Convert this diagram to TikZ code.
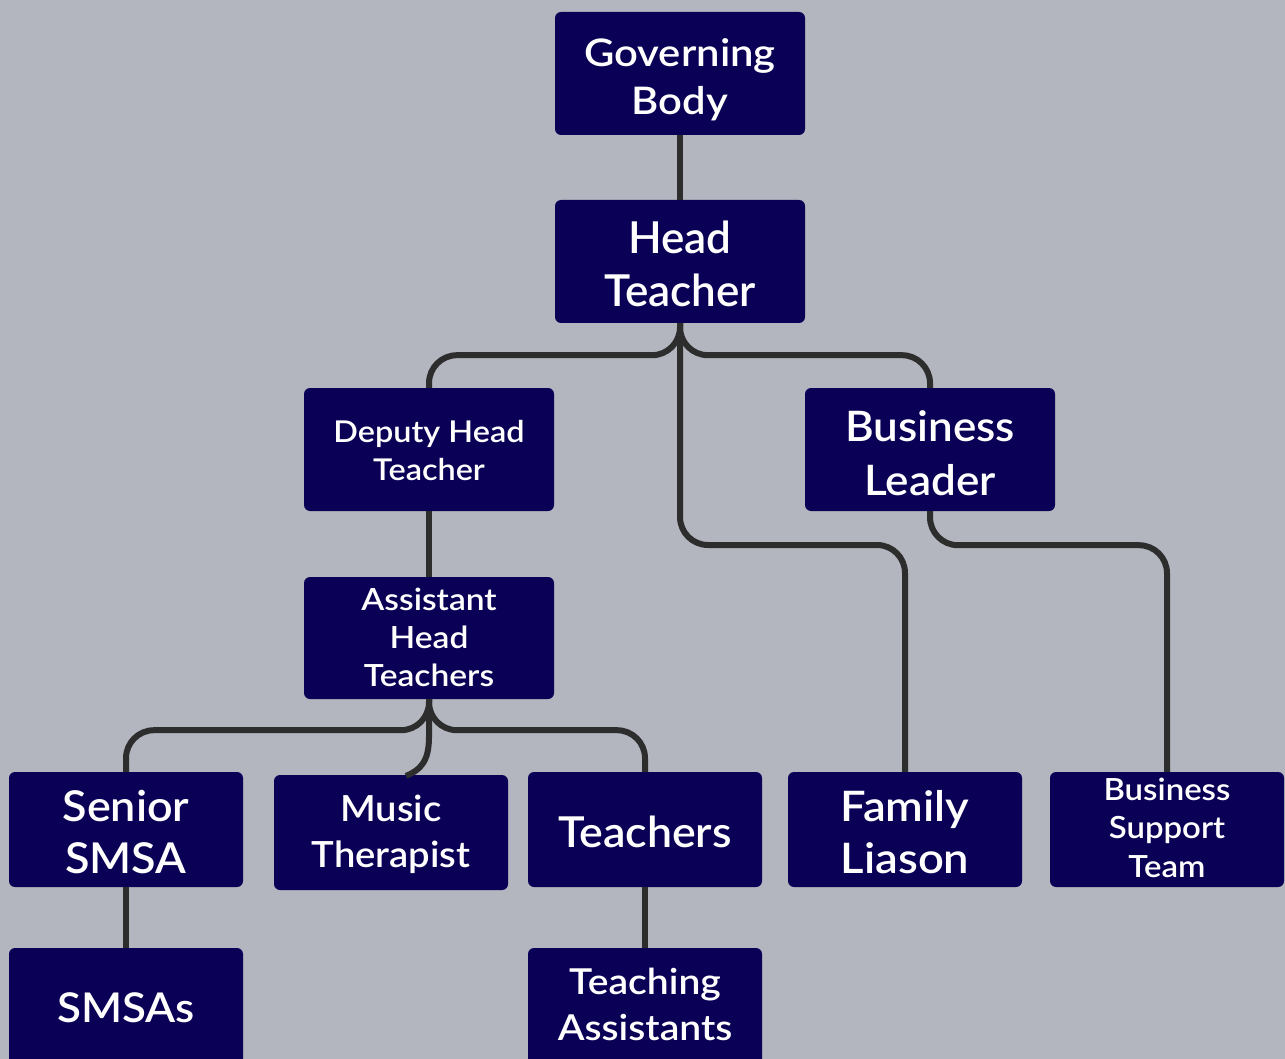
\documentclass[tikz,border=0pt]{standalone}
\usepackage{fontspec}
\setmainfont{Lato Semibold}
\definecolor{bgc}{HTML}{B3B6BF}
\definecolor{boxc}{HTML}{0A0055}
\definecolor{linec}{HTML}{2D2D2D}
\newcommand{\boxfont}[3]{\fontsize{#1}{#2}\selectfont\addfontfeature{FakeStretch=#3}}
\begin{document}
\begin{tikzpicture}[x=1pt,y=-1pt,
  orgbox/.style={rectangle, rounded corners=6pt, fill=boxc, text=white,
    align=center, inner sep=0pt, minimum width=#1, text depth=0pt},
  orgbox/.default=250pt,
  lastbase/.style={text height=2*#1},
  link/.style={draw=linec, line width=6pt, rounded corners=28pt}]
\fill[bgc] (0,0) rectangle (1285,1059);
\useasboundingbox (0,0) rectangle (1285,1059);
\node[orgbox, minimum height=123pt, lastbase=41.5pt, font=\boxfont{38}{48.3}{1.1}] (gb) at (680,73.5) {Governing\\Body};
\node[orgbox, minimum height=123pt, lastbase=45.2pt, font=\boxfont{44}{53.4}{1.0}] (ht) at (680,261.5) {Head\\Teacher};
\node[orgbox, minimum height=123pt, lastbase=30.5pt, font=\boxfont{30}{37.3}{1.08}] (dh) at (429,449.5) {Deputy Head\\Teacher};
\node[orgbox, minimum height=123pt, lastbase=45.5pt, font=\boxfont{42}{53.3}{1.048}] (bl) at (930,449.5) {Business\\Leader};
\node[orgbox, minimum height=122pt, lastbase=48.7pt, font=\boxfont{30.5}{38}{1.1}] (ah) at (429,638) {Assistant\\Head\\Teachers};
\node[orgbox=234pt, minimum height=115pt, lastbase=43.8pt, font=\boxfont{42.5}{52.3}{1.057}] (ss) at (126,829.5) {Senior\\SMSA};
\node[orgbox=234pt, minimum height=115pt, lastbase=34.8pt, font=\boxfont{36}{46.3}{1.06}] (mt) at (391,832.5) {Music\\Therapist};
\node[orgbox=234pt, minimum height=115pt, lastbase=17.8pt, font=\boxfont{42.6}{52}{1.05}] (te) at (645,829.5) {Teachers};
\node[orgbox=234pt, minimum height=115pt, lastbase=43.8pt, font=\boxfont{42}{52.3}{1.08}] (fl) at (905,829.5) {Family\\Liason};
\node[orgbox=234pt, minimum height=115pt, lastbase=47.5pt, font=\boxfont{30.5}{38.4}{1.08}] (bs) at (1167,829.5) {Business\\Support\\Team};
\node[orgbox=234pt, minimum height=124pt, lastbase=12.7pt, font=\boxfont{41}{52}{1.07}] (sm) at (126,1010) {SMSAs};
\node[orgbox=234pt, minimum height=124pt, lastbase=30pt, font=\boxfont{35.7}{46}{1.094}] (ta) at (645,1010) {Teaching\\Assistants};
\coordinate (mtin) at (406,776);
\draw[link] (gb.south) -- (ht.north);
\draw[link] (ht.south) -- ++(0,32) -| (dh.north);
\draw[link] (ht.south) -- ++(0,32) -| (bl.north);
\draw[link] (ht.south) -- (680,545) -| (fl.north);
\draw[link] (bl.south) -- ++(0,34) -| (bs.north);
\draw[link] (dh.south) -- (ah.north);
\draw[link] (ah.south) -- ++(0,31) -| (ss.north);
\draw[link] (ah.south) -- ++(0,31) -| (te.north);
\draw[link, rounded corners=0pt] (ah.south) -- (429,737) .. controls (429,762) and (420,770) .. (mtin);
\draw[link] (ss.south) -- (sm.north);
\draw[link] (te.south) -- (ta.north);
\end{tikzpicture}
\end{document}
